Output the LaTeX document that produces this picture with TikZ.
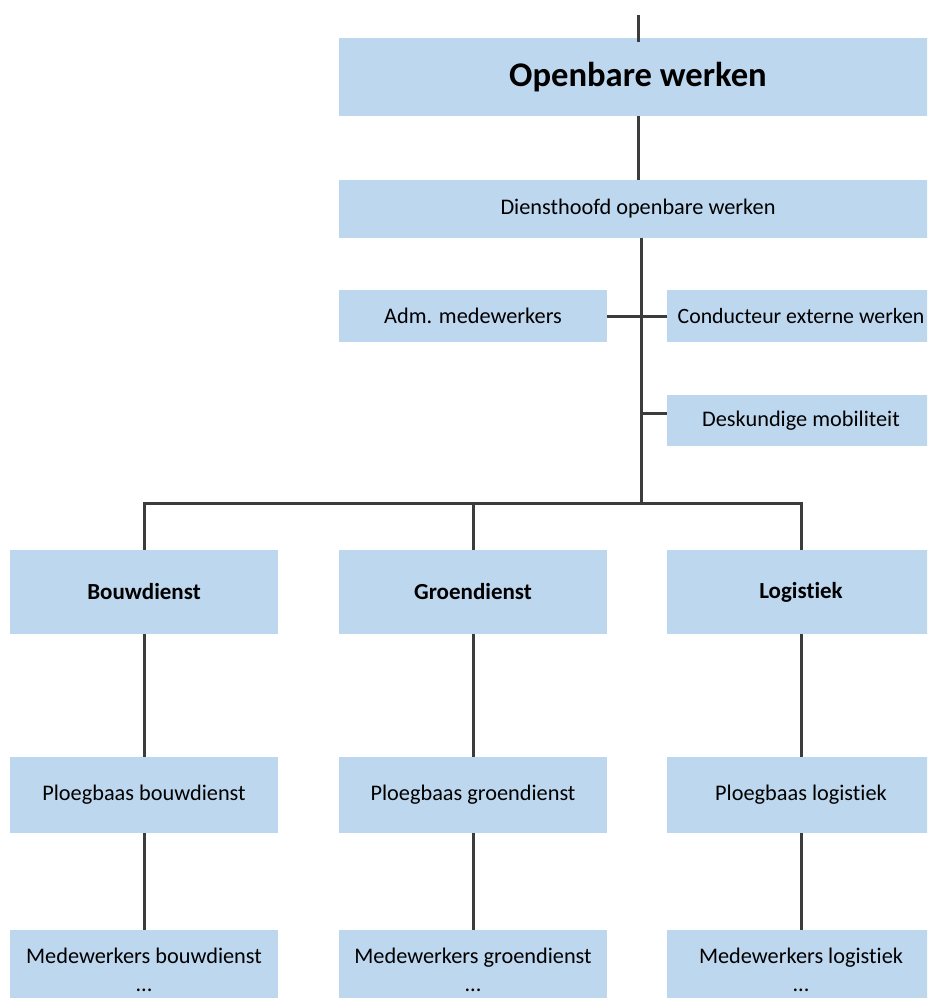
\documentclass[tikz,border=0pt]{standalone}
\usepackage{fontspec}
\setmainfont[Ligatures=NoCommon]{Carlito}
\definecolor{boxblue}{HTML}{BDD7EE}
\definecolor{linegray}{HTML}{3C3C3C}
\begin{document}
\begin{tikzpicture}[x=1pt, y=-1pt,
	orgbox/.style={fill=boxblue, inner sep=0pt, minimum width=268pt, align=center, font=\fontsize{22.3}{28}\selectfont},
	headbox/.style={orgbox, font=\fontsize{23}{28}\selectfont\bfseries},
	link/.style={line width=3pt, color=linegray}]
	\useasboundingbox (0,0) rectangle (927,998);
	\clip (0,0) rectangle (927,998);
	\node[orgbox, minimum width=598pt, minimum height=78pt, font=\fontsize{34.6}{40}\selectfont\bfseries] (ow) at (638,77) {Openbare werken};
	\node[orgbox, minimum width=598pt, minimum height=58pt] (dh) at (638,209) {Diensthoofd openbare werken};
	\node[orgbox, minimum height=52pt] (adm) at (473,316) {Adm. medewerkers};
	\node[orgbox, minimum height=52pt, font=\fontsize{21.8}{28}\selectfont] (cond) at (801,316) {Conducteur externe werken};
	\node[orgbox, minimum height=51pt] (desk) at (801,420.5) {Deskundige mobiliteit};
	\node[headbox, minimum height=84pt] (bouw) at (144,592) {Bouwdienst};
	\node[headbox, minimum height=84pt] (groen) at (473,592) {Groendienst};
	\node[headbox, minimum height=84pt] (logi) at (801,592) {Logistiek};
	\node[orgbox, minimum height=76pt] (pbouw) at (144,795) {Ploegbaas bouwdienst};
	\node[orgbox, minimum height=76pt] (pgroen) at (473,795) {Ploegbaas groendienst};
	\node[orgbox, minimum height=76pt] (plogi) at (801,795) {Ploegbaas logistiek};
	\node[orgbox, minimum height=80pt] (mbouw) at (144,970) {Medewerkers bouwdienst\\...};
	\node[orgbox, minimum height=80pt] (mgroen) at (473,970) {Medewerkers groendienst\\...};
	\node[orgbox, minimum height=80pt] (mlogi) at (801,970) {Medewerkers logistiek\\...};
	\coordinate (stub) at (638,15);
	\coordinate (hub) at (641,503);
	\coordinate (deskj) at (641,413);
	\draw[link] (stub) -- ([yshift=-4pt]ow.north);
	\draw[link] (ow.south) -- (dh.north);
	\draw[link] (dh.south -| hub) -- (hub);
	\draw[link] (adm.east) -- (cond.west);
	\draw[link] (deskj) -- (deskj -| desk.west);
	\draw[link] (bouw.north) |- (logi.north |- hub) -- (logi.north);
	\draw[link] (groen.north) -- (groen.north |- hub);
	\draw[link] (bouw.south) -- (pbouw.north);
	\draw[link] (groen.south) -- (pgroen.north);
	\draw[link] (logi.south) -- (plogi.north);
	\draw[link] (pbouw.south) -- (mbouw.north);
	\draw[link] (pgroen.south) -- (mgroen.north);
	\draw[link] (plogi.south) -- (mlogi.north);
\end{tikzpicture}
\end{document}
